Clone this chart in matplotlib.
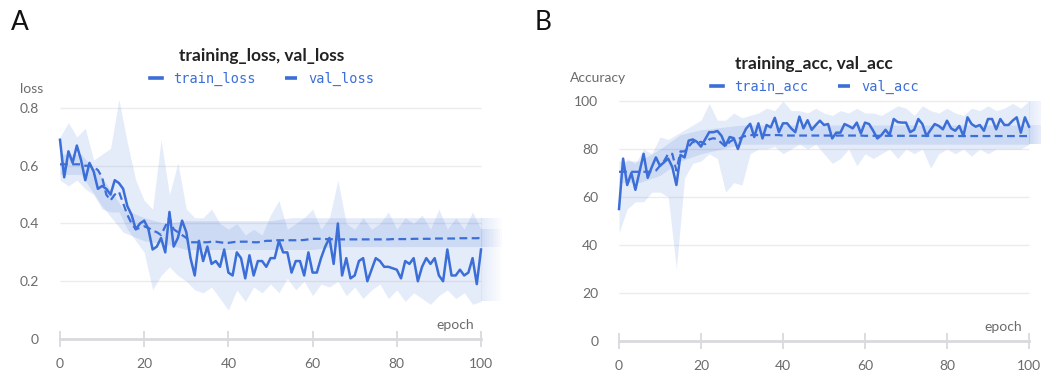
import numpy as np
import matplotlib
matplotlib.use("Agg")
import matplotlib.pyplot as plt

plt.rcParams['font.family'] = ['Lato', 'DejaVu Sans']

# epochs
epochs = np.arange(0, 101)
band_ep = np.arange(0, 101, 2)      # train band read every 2 epochs
vband_ep = np.arange(0, 101, 5)     # val band read every 5 epochs

# --- panel A: loss ---
train_loss = [0.69, 0.56, 0.65, 0.61, 0.67, 0.62, 0.55, 0.61, 0.58, 0.52,
              0.53, 0.52, 0.50, 0.55, 0.54, 0.52, 0.46, 0.43, 0.38, 0.40,
              0.41, 0.38, 0.31, 0.32, 0.35, 0.30, 0.44, 0.32, 0.35, 0.41,
              0.37, 0.28, 0.22, 0.34, 0.27, 0.32, 0.26, 0.27, 0.25, 0.31,
              0.23, 0.22, 0.30, 0.28, 0.21, 0.29, 0.22, 0.27, 0.27, 0.25,
              0.28, 0.28, 0.34, 0.30, 0.30, 0.23, 0.27, 0.27, 0.22, 0.30,
              0.23, 0.23, 0.28, 0.32, 0.35, 0.26, 0.40, 0.22, 0.28, 0.21,
              0.22, 0.27, 0.28, 0.20, 0.24, 0.28, 0.27, 0.25, 0.25, 0.245,
              0.24, 0.21, 0.27, 0.26, 0.28, 0.20, 0.25, 0.28, 0.26, 0.28,
              0.22, 0.20, 0.31, 0.22, 0.22, 0.24, 0.22, 0.23, 0.28, 0.19,
              0.31]
val_loss = [0.605, 0.605, 0.605, 0.605, 0.605, 0.605, 0.60, 0.60, 0.595, 0.585,
            0.56, 0.50, 0.48, 0.50, 0.51, 0.47, 0.43, 0.40, 0.38, 0.385,
            0.39, 0.385, 0.375, 0.37, 0.36, 0.39, 0.42, 0.38, 0.37, 0.36,
            0.35, 0.335, 0.335, 0.335, 0.335, 0.335, 0.337, 0.337, 0.335, 0.333,
            0.333, 0.335, 0.337, 0.337, 0.337, 0.337, 0.335, 0.335, 0.337, 0.34,
            0.34, 0.342, 0.342, 0.342, 0.342, 0.342, 0.342, 0.342, 0.343, 0.345,
            0.347, 0.347, 0.347, 0.346, 0.346, 0.345, 0.345, 0.345, 0.345, 0.345,
            0.345, 0.345, 0.345, 0.345, 0.345, 0.345, 0.345, 0.345, 0.345, 0.346,
            0.346, 0.346, 0.346, 0.346, 0.347, 0.347, 0.347, 0.347, 0.347, 0.348,
            0.348, 0.348, 0.348, 0.348, 0.348, 0.349, 0.349, 0.349, 0.349, 0.349,
            0.35]
train_loss_hi = [0.70, 0.75, 0.70, 0.73, 0.62, 0.64, 0.66, 0.83, 0.68, 0.55,
                 0.48, 0.45, 0.69, 0.50, 0.61, 0.45, 0.42, 0.42, 0.45, 0.40,
                 0.38, 0.40, 0.36, 0.38, 0.36, 0.43, 0.48, 0.38, 0.40, 0.42,
                 0.45, 0.38, 0.42, 0.55, 0.40, 0.38, 0.42, 0.38, 0.40, 0.44,
                 0.38, 0.42, 0.40, 0.43, 0.38, 0.45, 0.38, 0.42, 0.38, 0.44,
                 0.38]
train_loss_lo = [0.55, 0.53, 0.55, 0.52, 0.50, 0.45, 0.44, 0.44, 0.38, 0.34,
                 0.30, 0.17, 0.22, 0.25, 0.22, 0.20, 0.17, 0.16, 0.18, 0.14,
                 0.10, 0.17, 0.13, 0.18, 0.16, 0.19, 0.16, 0.21, 0.17, 0.20,
                 0.15, 0.19, 0.18, 0.20, 0.15, 0.18, 0.14, 0.17, 0.19, 0.14,
                 0.17, 0.13, 0.16, 0.14, 0.12, 0.15, 0.17, 0.14, 0.16, 0.12,
                 0.13]
val_loss_lo = [0.57, 0.57, 0.46, 0.37, 0.34, 0.33, 0.31, 0.31, 0.31, 0.31, 0.31,
               0.31, 0.31, 0.32, 0.32, 0.32, 0.32, 0.32, 0.32, 0.32, 0.32]
val_loss_hi = [0.64, 0.64, 0.56, 0.45, 0.42, 0.40, 0.41, 0.41, 0.41, 0.41, 0.41,
               0.42, 0.42, 0.42, 0.42, 0.42, 0.42, 0.42, 0.42, 0.42, 0.42]

# --- panel B: accuracy ---
train_acc = [55, 76, 65, 70, 63, 70.5, 78, 68, 72.5, 76.5,
             73, 74.5, 76, 72.5, 65, 77.5, 76.5, 83.5, 84, 83,
             81, 84, 87, 87, 87.5, 85.5, 81.5, 85, 84.5, 80,
             85, 88.5, 90.5, 85, 90.7, 84.4, 90, 89, 93, 87,
             90.7, 90.7, 88.6, 87, 93.5, 88.6, 92, 88, 90, 91.8,
             90, 90.4, 84.4, 86.8, 86.8, 90.4, 89.6, 88.6, 91, 86.5,
             91, 90.4, 87.6, 84.4, 85.8, 88, 85.8, 92.5, 91.2, 91,
             91, 87, 88, 92.5, 90.4, 85.4, 88, 90.4, 89.6, 88.2,
             91.8, 88.6, 87.6, 89.6, 85.4, 93.2, 90.4, 89.3, 90, 87.6,
             92.5, 92.5, 88.2, 92.5, 90, 90, 91.8, 93.2, 86.8, 93.2,
             89.3]
val_acc = [70.5, 70.5, 70.5, 70.5, 70.5, 70.5, 70.5, 70.5, 70.5, 71,
           73, 75, 78, 78, 71, 79, 79, 81, 83, 82.5,
           83, 82, 84, 84.5, 84, 82.5, 81, 83, 84, 84,
           85, 85.5, 85.8, 85.8, 85.8, 85.8, 85.8, 85.8, 85.8, 85.8,
           85.6, 85.6, 85.6, 85.6, 85.6, 85.6, 85.6, 85.6, 85.6, 85.6,
           85.6, 85.6, 85.6, 85.6, 85.6, 85.6, 85.6, 85.6, 85.6, 85.6,
           85.5, 85.5, 85.5, 85.5, 85.5, 85.5, 85.5, 85.5, 85.5, 85.5,
           85.5, 85.5, 85.5, 85.5, 85.5, 85.5, 85.5, 85.5, 85.5, 85.5,
           85.4, 85.4, 85.4, 85.4, 85.4, 85.4, 85.4, 85.4, 85.4, 85.4,
           85.4, 85.4, 85.4, 85.4, 85.4, 85.4, 85.4, 85.4, 85.4, 85.4,
           85.4]
train_acc_hi = [68, 76, 74, 80, 78, 85, 84, 86, 88, 90,
                92, 99, 92, 92, 95, 93, 94, 95, 97, 96,
                100, 96, 96, 95, 97, 95, 94, 96, 95, 97,
                95, 95, 94, 96, 98, 97, 94, 98, 96, 95,
                97, 95, 94, 97, 96, 98, 96, 97, 99, 97,
                100]
train_acc_lo = [45, 55, 58, 58, 62, 62, 60, 30, 68, 74,
                75, 78, 76, 62, 66, 65, 78, 80, 80, 81,
                78, 80, 82, 80, 82, 78, 74, 76, 80, 73,
                78, 76, 78, 80, 76, 80, 78, 80, 72, 78,
                80, 78, 80, 77, 80, 78, 80, 80, 80, 80,
                82]
val_acc_lo = [66, 66, 69, 75, 78, 80, 82, 82, 82, 82, 82,
              82, 82, 82, 82, 82, 82, 82, 82, 82, 82]
val_acc_hi = [75, 75, 80, 86, 88, 89, 90, 90, 90, 90, 90,
              90, 90, 90, 90, 90, 90, 90, 90, 90, 90]

BLUE = '#3c6ed8'
GRID = '#ececec'
AXIS = '#d9d9de'
TICK = '#6b6b6b'

W, H = 1041, 373
fig = plt.figure(figsize=(W / 100, H / 100), dpi=100)


def px(x, y):
    return x / W, 1 - y / H


def add_axes(x0, x_per, y0, y_per, xlim, ylim):
    # place axes so data maps onto the reference pixel grid
    left = x0 + xlim[0] * x_per
    right = x0 + xlim[1] * x_per
    bottom = y0 - ylim[0] * y_per
    top = y0 - ylim[1] * y_per
    ax = fig.add_axes([left / W, 1 - bottom / H, (right - left) / W, (bottom - top) / H])
    ax.set_xlim(*xlim)
    ax.set_ylim(*ylim)
    return ax


def style(ax, yticks, ylabels):
    for s in ['top', 'right', 'left']:
        ax.spines[s].set_visible(False)
    ax.spines['bottom'].set_color(AXIS)
    ax.spines['bottom'].set_linewidth(2)
    ax.spines['bottom'].set_bounds(0, 100)
    ax.spines['bottom'].set_position(('data', 0))
    ax.set_xticks([0, 20, 40, 60, 80, 100])
    ax.tick_params(axis='x', direction='inout', length=12, width=1.3, color=AXIS,
                   labelcolor=TICK, labelsize=10, pad=8)
    ax.set_yticks(yticks)
    ax.set_yticklabels(ylabels)
    ax.tick_params(axis='y', length=0, labelcolor=TICK, labelsize=10, pad=12)
    ax.hlines(yticks[1:], 0, 100, color=GRID, lw=1, zorder=0)
    ax.annotate('epoch', xy=(100, 0), xytext=(-5, 6), textcoords='offset points',
                ha='right', va='bottom', color=TICK, fontsize=10)


def bands(ax, x, lo, hi, alpha):
    ax.fill_between(x, lo, hi, color=BLUE, alpha=alpha, lw=0, zorder=1)
    # faded continuation past the last epoch
    for k in range(10):
        ax.fill_between([x[-1] + k * 0.5, x[-1] + (k + 1) * 0.5], lo[-1], hi[-1],
                        color=BLUE, alpha=alpha * (1 - k / 10), lw=0, zorder=1)


# panel A
axA = add_axes(60, 4.21, 339, 288.75, (-1, 106), (0, 0.85))
style(axA, [0, 0.2, 0.4, 0.6, 0.8], ['0', '0.2', '0.4', '0.6', '0.8'])
bands(axA, band_ep, train_loss_lo, train_loss_hi, 0.13)
bands(axA, vband_ep, val_loss_lo, val_loss_hi, 0.14)
axA.plot(epochs, train_loss, color=BLUE, lw=1.8, zorder=3, label='train_loss')
axA.plot(epochs, val_loss, color=BLUE, lw=1.6, ls=(0, (3.5, 2)), zorder=3, label='val_loss')

# panel B
axB = add_axes(619, 4.1, 341, 2.4, (-1, 102.9), (0, 104))
style(axB, [0, 20, 40, 60, 80, 100], ['0', '20', '40', '60', '80', '100'])
bands(axB, band_ep, train_acc_lo, train_acc_hi, 0.13)
bands(axB, vband_ep, val_acc_lo, val_acc_hi, 0.14)
axB.plot(epochs, train_acc, color=BLUE, lw=1.8, zorder=3, label='train_acc')
axB.plot(epochs, val_acc, color=BLUE, lw=1.6, ls=(0, (3.5, 2)), zorder=3, label='val_acc')

# titles, legends, labels
for ax, title, tpos, lpos, ylab, ypos in [
        (axA, 'training_loss, val_loss', (262, 56), (262, 79), 'loss', (43, 89)),
        (axB, 'training_acc, val_acc', (814, 64), (815, 87), 'Accuracy', (626, 78))]:
    fig.text(*px(*tpos), title, ha='center', va='center', fontsize=12.5,
             fontweight='bold', color='#222222')
    handles, labels = ax.get_legend_handles_labels()
    leg = ax.legend(handles, labels, loc='center', bbox_to_anchor=px(*lpos),
                    bbox_transform=fig.transFigure, ncol=2, frameon=False,
                    handlelength=0.9, handletextpad=0.8, columnspacing=2.2,
                    prop={'family': 'DejaVu Sans Mono', 'size': 9.8}, labelcolor=BLUE)
    for ln in leg.get_lines():
        ln.set_linewidth(2.6)
    fig.text(*px(*ypos), ylab, ha='right', va='center', fontsize=10, color=TICK)

fig.text(*px(20, 22), 'A', ha='center', va='center', fontsize=19, color='#111111')
fig.text(*px(543, 22), 'B', ha='center', va='center', fontsize=19, color='#111111')

fig.savefig('out.png', dpi=100)
